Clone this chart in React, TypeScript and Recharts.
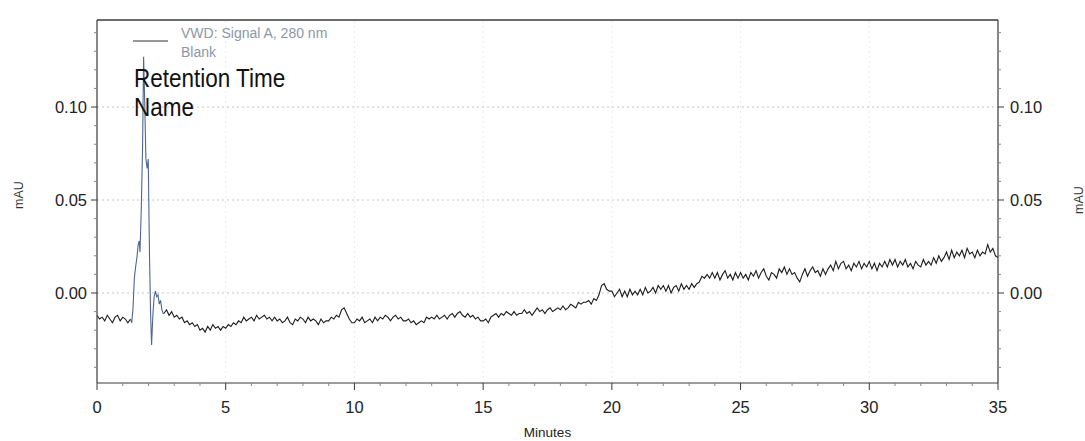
import React from 'react';
import { LineChart, Line, XAxis, YAxis, ReferenceLine } from 'recharts';

// Detector readings are taken every 0.1 min outside the main peak.
const SAMPLE_STEP = 0.1;

// 0.0 – 1.3 min
const leadSignal = [
  -0.012, -0.014, -0.013, -0.015, -0.012, -0.014, -0.016, -0.013, -0.012, -0.015,
  -0.013, -0.014, -0.016, -0.014,
];

// Injection peak, sampled more finely
const peakMinutes = [
  1.35, 1.4, 1.45, 1.5, 1.55, 1.6, 1.64, 1.67, 1.72, 1.77, 1.81, 1.85, 1.9, 1.95,
  1.99, 2.04, 2.08, 2.12, 2.17, 2.22, 2.27, 2.32, 2.37, 2.42, 2.47, 2.52, 2.57,
];
const peakSignal = [
  -0.016, -0.008, 0.008, 0.014, 0.019, 0.026, 0.028, 0.022, 0.045, 0.078, 0.127, 0.105, 0.072, 0.067,
  0.072, 0.02, -0.01, -0.028, -0.012, -0.002, 0.001, -0.002, -0.001, -0.006, -0.004, -0.009, -0.011,
];

// 2.6 – 35.0 min
const TAIL_START = 2.6;
const tailSignal = [
  -0.011, -0.009, -0.012, -0.010,
  -0.013, -0.012, -0.014, -0.013, -0.016, -0.015, -0.017, -0.016, -0.018, -0.017,
  -0.020, -0.019, -0.021, -0.018, -0.020, -0.017, -0.019, -0.018, -0.020, -0.018,
  -0.019, -0.017, -0.018, -0.016, -0.017, -0.015, -0.016, -0.013, -0.015, -0.014,
  -0.013, -0.015, -0.012, -0.014, -0.013, -0.012, -0.014, -0.013, -0.015, -0.013,
  -0.015, -0.014, -0.016, -0.015, -0.013, -0.016, -0.017, -0.014, -0.015, -0.013,
  -0.014, -0.016, -0.013, -0.015, -0.014, -0.015, -0.017, -0.014, -0.016, -0.015,
  -0.015, -0.013, -0.014, -0.012, -0.013, -0.009, -0.008, -0.011, -0.014, -0.016,
  -0.016, -0.014, -0.015, -0.013, -0.016, -0.015, -0.014, -0.016, -0.013, -0.015,
  -0.013, -0.014, -0.012, -0.013, -0.015, -0.013, -0.012, -0.014, -0.013, -0.015,
  -0.015, -0.014, -0.016, -0.015, -0.017, -0.016, -0.015, -0.016, -0.013, -0.014,
  -0.013, -0.014, -0.012, -0.014, -0.013, -0.012, -0.014, -0.012, -0.011, -0.013,
  -0.011, -0.010, -0.012, -0.013, -0.011, -0.013, -0.012, -0.014, -0.013, -0.015,
  -0.015, -0.014, -0.016, -0.013, -0.012, -0.011, -0.013, -0.011, -0.012, -0.010,
  -0.011, -0.012, -0.010, -0.012, -0.011, -0.011, -0.009, -0.011, -0.010, -0.012,
  -0.010, -0.008, -0.010, -0.009, -0.011, -0.009, -0.008, -0.010, -0.009, -0.008,
  -0.009, -0.007, -0.009, -0.008, -0.006, -0.007, -0.008, -0.005, -0.006, -0.005,
  -0.005, -0.004, -0.006, -0.003, -0.004, -0.001, 0.004, 0.005, 0.002, 0.001,
  0.001, -0.002, 0.000, 0.002, -0.002, 0.001, -0.002, 0.002, -0.001, 0.001,
  -0.001, 0.002, -0.001, 0.003, 0.000, 0.001, 0.003, 0.000, 0.004, 0.002,
  0.004, 0.001, 0.004, 0.000, 0.003, 0.004, 0.001, 0.005, 0.002, 0.004,
  0.002, 0.005, 0.003, 0.005, 0.006, 0.009, 0.008, 0.010, 0.008, 0.011,
  0.008, 0.011, 0.007, 0.010, 0.012, 0.008, 0.010, 0.007, 0.011, 0.008,
  0.011, 0.008, 0.010, 0.007, 0.011, 0.009, 0.012, 0.008, 0.011, 0.013,
  0.009, 0.007, 0.011, 0.010, 0.008, 0.013, 0.011, 0.014, 0.010, 0.013,
  0.010, 0.011, 0.008, 0.006, 0.010, 0.013, 0.009, 0.012, 0.014, 0.011,
  0.012, 0.009, 0.013, 0.010, 0.013, 0.015, 0.012, 0.017, 0.013, 0.016,
  0.017, 0.013, 0.015, 0.012, 0.016, 0.014, 0.017, 0.013, 0.016, 0.014,
  0.017, 0.013, 0.016, 0.012, 0.016, 0.014, 0.017, 0.014, 0.018, 0.015,
  0.018, 0.014, 0.017, 0.015, 0.018, 0.014, 0.016, 0.013, 0.017, 0.015,
  0.014, 0.018, 0.015, 0.017, 0.015, 0.019, 0.016, 0.020, 0.017, 0.019,
  0.022, 0.018, 0.023, 0.019, 0.022, 0.020, 0.023, 0.019, 0.024, 0.021,
  0.022, 0.019, 0.023, 0.020, 0.022, 0.021, 0.026, 0.022, 0.024, 0.020,
  0.019,
];

const minuteTicks = [
  0, 1, 2, 3, 4, 5, 6, 7, 8, 9, 10, 11, 12, 13, 14, 15, 16, 17, 18, 19, 20,
  21, 22, 23, 24, 25, 26, 27, 28, 29, 30, 31, 32, 33, 34, 35,
];
const labeledMinutes = [0, 5, 10, 15, 20, 25, 30, 35];
const gridMinutes = [5, 10, 15, 20, 25, 30];

const mauTicks = [
  -0.04, -0.03, -0.02, -0.01, 0, 0.01, 0.02, 0.03, 0.04, 0.05,
  0.06, 0.07, 0.08, 0.09, 0.1, 0.11, 0.12, 0.13, 0.14,
];
const labeledMau = [0, 0.05, 0.1];

const MAU_MIN = -0.0484;
const MAU_MAX = 0.1468;

type Row = { t: number; base?: number; peak?: number };

const rows: Row[] = [];
leadSignal.forEach((v, i) => rows.push({ t: +(i * SAMPLE_STEP).toFixed(2), base: v }));
rows[rows.length - 1].peak = rows[rows.length - 1].base;
peakMinutes.forEach((t, i) => rows.push({ t, peak: peakSignal[i] }));
const tailIndex = rows.length;
tailSignal.forEach((v, i) =>
  rows.push({ t: +(TAIL_START + i * SAMPLE_STEP).toFixed(2), base: v })
);
rows[tailIndex].peak = tailSignal[0];

const FONT = '"Liberation Sans", Arial, sans-serif';
const AXIS_COLOR = '#3a3a3a';

const isIn = (v: number, list: number[]) => list.some((l) => Math.abs(l - v) < 1e-6);

function LeftMauTick(props: any) {
  const { x, y, payload } = props;
  const major = isIn(payload.value, labeledMau);
  return (
    <g>
      <line x1={x} x2={x - (major ? 6 : 3)} y1={y} y2={y} stroke={major ? AXIS_COLOR : '#888'} />
      {major && (
        <text x={x - 10} y={y} dy="0.36em" textAnchor="end" fontSize={16.5} fill="#222" fontFamily={FONT}>
          {payload.value.toFixed(2)}
        </text>
      )}
    </g>
  );
}

function RightMauTick(props: any) {
  const { x, y, payload } = props;
  const major = isIn(payload.value, labeledMau);
  return (
    <g>
      <line x1={x} x2={x + (major ? 6 : 3)} y1={y} y2={y} stroke={major ? AXIS_COLOR : '#888'} />
      {major && (
        <text x={x + 12} y={y} dy="0.36em" textAnchor="start" fontSize={16.5} fill="#222" fontFamily={FONT}>
          {payload.value.toFixed(2)}
        </text>
      )}
    </g>
  );
}

function MinuteTick(props: any) {
  const { x, y, payload } = props;
  const major = isIn(payload.value, labeledMinutes);
  return (
    <g>
      <line x1={x} x2={x} y1={y} y2={y + (major ? 7 : 3)} stroke={major ? AXIS_COLOR : '#888'} />
      {major && (
        <text x={x} y={y + 30} textAnchor="middle" fontSize={16.5} fill="#222" fontFamily={FONT}>
          {payload.value}
        </text>
      )}
    </g>
  );
}

export default function App() {
  return (
    <div style={{ position: 'absolute', left: 0, top: 0, width: 1085, height: 441, background: '#fff', fontFamily: FONT }}>
      <LineChart width={1085} height={441} data={rows} margin={{ top: 20, right: 0, bottom: 0, left: 0 }}>
        <XAxis
          dataKey="t"
          type="number"
          domain={[0, 35]}
          allowDataOverflow
          ticks={minuteTicks}
          interval={0}
          tickSize={0}
          tickMargin={0}
          tick={<MinuteTick />}
          height={58}
          axisLine={{ stroke: AXIS_COLOR, strokeWidth: 1.2 }}
          label={{ value: 'Minutes', position: 'insideBottom', offset: 4, fontSize: 13.5, fill: '#222' }}
        />
        <YAxis
          yAxisId="left"
          type="number"
          domain={[MAU_MIN, MAU_MAX]}
          allowDataOverflow
          ticks={mauTicks}
          interval={0}
          tickSize={0}
          tickMargin={0}
          tick={<LeftMauTick />}
          width={97}
          axisLine={{ stroke: AXIS_COLOR, strokeWidth: 1.2 }}
        />
        <YAxis
          yAxisId="right"
          orientation="right"
          type="number"
          domain={[MAU_MIN, MAU_MAX]}
          allowDataOverflow
          ticks={mauTicks}
          interval={0}
          tickSize={0}
          tickMargin={0}
          tick={<RightMauTick />}
          width={87}
          axisLine={{ stroke: AXIS_COLOR, strokeWidth: 1.2 }}
        />
        {gridMinutes.map((m) => (
          <ReferenceLine key={`v${m}`} x={m} yAxisId="left" stroke="#ececec" strokeDasharray="2 3" />
        ))}
        {labeledMau.map((v) => (
          <ReferenceLine key={`h${v}`} y={v} yAxisId="left" stroke="#c4c4c4" strokeDasharray="2 3" />
        ))}
        <ReferenceLine y={MAU_MAX} yAxisId="left" stroke={AXIS_COLOR} strokeWidth={1.4} />
        <Line
          yAxisId="left"
          dataKey="base"
          type="linear"
          stroke="#1c1c1c"
          strokeWidth={1.1}
          dot={false}
          activeDot={false}
          connectNulls={false}
          isAnimationActive={false}
        />
        <Line
          yAxisId="left"
          dataKey="peak"
          type="linear"
          stroke="#4f6693"
          strokeWidth={1.1}
          dot={false}
          activeDot={false}
          connectNulls={false}
          isAnimationActive={false}
        />
      </LineChart>
      <svg
        width={1085}
        height={441}
        style={{ position: 'absolute', left: 0, top: 0, pointerEvents: 'none' }}
      >
        <line x1={133} x2={168} y1={41} y2={41} stroke="#333" strokeWidth={1} />
        <text x={181} y={38} fontSize={14} fill="#8d97a8" fontFamily={FONT}>VWD: Signal A, 280 nm</text>
        <text x={181} y={57} fontSize={14} fill="#8d97a8" fontFamily={FONT}>Blank</text>
        <text
          x={134}
          y={87}
          fontSize={22.5}
          fill="#111"
          fontFamily={FONT}
          transform="translate(0 87) scale(1 1.17) translate(0 -87)"
        >
          Retention Time
        </text>
        <text
          x={134}
          y={116.5}
          fontSize={22.5}
          fill="#111"
          fontFamily={FONT}
          transform="translate(0 116.5) scale(1 1.17) translate(0 -116.5)"
        >
          Name
        </text>
        <text
          x={19}
          y={195}
          fontSize={12.5}
          fill="#333"
          fontFamily={FONT}
          textAnchor="middle"
          dy="0.35em"
          transform="rotate(-90 19 195)"
        >
          mAU
        </text>
        <text
          x={1079}
          y={200}
          fontSize={12.5}
          fill="#333"
          fontFamily={FONT}
          textAnchor="middle"
          dy="0.35em"
          transform="rotate(-90 1079 200)"
        >
          mAU
        </text>
      </svg>
    </div>
  );
}
